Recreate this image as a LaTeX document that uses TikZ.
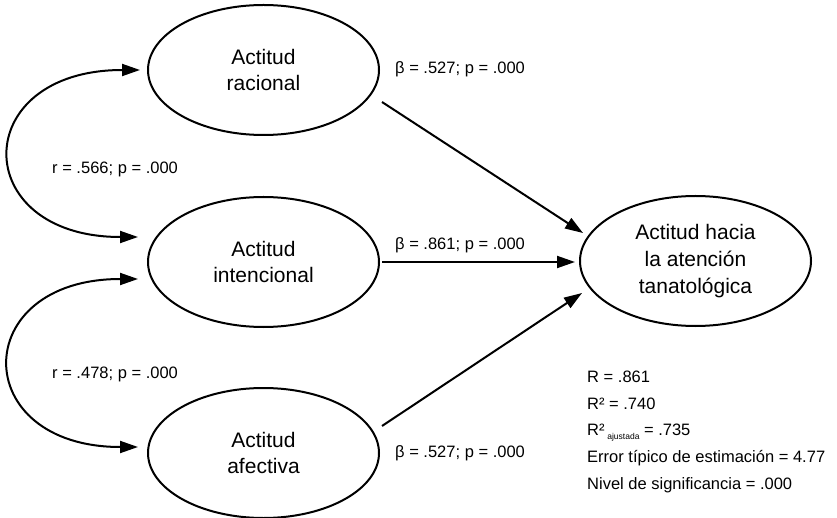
\documentclass[tikz,border=0pt]{standalone}
\usepackage{fontspec}
\setmainfont{Liberation Sans}
\usetikzlibrary{arrows.meta,shapes.geometric}
\begin{document}
\begin{tikzpicture}[x=1pt,y=-1pt,
  lat/.style={ellipse, draw, line width=2pt, minimum width=231pt, minimum height=130pt,
    inner sep=0pt, align=center, font=\fontsize{21}{26.7}\selectfont},
  arr/.style={line width=2pt, -{Triangle[length=18pt,width=12pt]}},
  darr/.style={line width=2pt, {Triangle[length=18pt,width=12pt]}-{Triangle[length=18pt,width=12pt]}},
  lab/.style={anchor=base west, inner sep=0pt, font=\fontsize{16.5}{19}\selectfont}]
\useasboundingbox (0,0) rectangle (837,518);
% latent variables
\node[lat] (r) at (263.5,70) {Actitud\\racional};
\node[lat] (i) at (263.5,262) {Actitud\\intencional};
\node[lat] (f) at (263.5,453) {Actitud\\afectiva};
\node[lat] (t) at (695.5,261) {Actitud hacia\\la atención\\tanatológica};
% connection points
\coordinate (r0) at (382,102);
\coordinate (t1) at (583,233);
\coordinate (i0) at (382,262);
\coordinate (t2) at (575,262);
\coordinate (f0) at (382,426);
\coordinate (t3) at (582,293);
\coordinate (ra) at (140,70);
\coordinate (ia) at (138,237);
\coordinate (ib) at (138,279);
\coordinate (fa) at (138,447);
% regression paths
\draw[arr] (r0) -- (t1);
\draw[arr] (i0) -- (t2);
\draw[arr] (f0) -- (t3);
% correlations
\draw[darr] (ra) .. controls (-32,70) and (-32,237) .. (ia);
\draw[darr] (ib) .. controls (-32,279) and (-32,447) .. (fa);
% labels
\node[lab] (b1) at (395,74) {β = .527; p = .000};
\node[lab] (b2) at (395,250) {β = .861; p = .000};
\node[lab] (b3) at (395,457) {β = .527; p = .000};
\node[lab] (c1) at (52,174) {r = .566; p = .000};
\node[lab] (c2) at (52,378) {r = .478; p = .000};
% model statistics
\node[lab] (s1) at (587,382) {R = .861};
\node[lab] (s2) at (587,409) {R² = .740};
\node[lab] (s3) at (587,435) {R²\,\raisebox{-4pt}{\fontsize{8.5}{9}\selectfont ajustada} = .735};
\node[lab] (s4) at (587,462) {Error típico de estimación = 4.77};
\node[lab] (s5) at (587,489) {Nivel de significancia = .000};
\end{tikzpicture}
\end{document}
